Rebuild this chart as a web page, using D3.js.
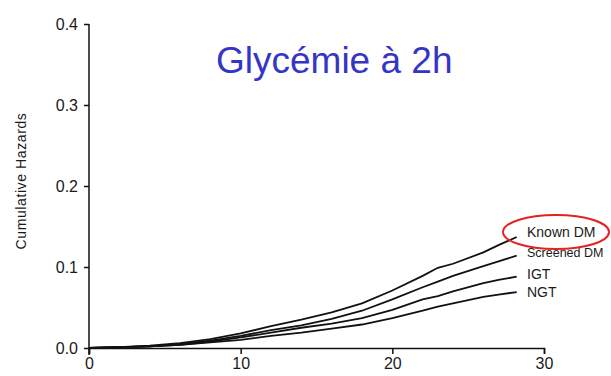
<!DOCTYPE html>
<html><head><meta charset="utf-8">
<script src="https://cdn.jsdelivr.net/npm/d3@7"></script>
<style>html,body{margin:0;padding:0;background:#fff;}svg{display:block;}</style>
</head><body>
<script>
const times = [0,2,4,6,8,10,12,14,16,18,20,22,23,24,26,27,28.2];
const knownDM    = [0,0.001,0.003,0.006,0.011,0.018,0.027,0.035,0.044,0.055,0.071,0.089,0.099,0.104,0.118,0.127,0.137];
const screenedDM = [0,0.001,0.002,0.005,0.009,0.015,0.022,0.028,0.036,0.046,0.060,0.075,0.082,0.089,0.101,0.107,0.114];
const igt        = [0,0.001,0.002,0.004,0.008,0.013,0.019,0.025,0.030,0.037,0.047,0.060,0.064,0.070,0.080,0.084,0.088];
const ngt        = [0,0.001,0.002,0.004,0.007,0.010,0.015,0.019,0.024,0.029,0.037,0.046,0.051,0.055,0.063,0.066,0.069];
const seriesNames = ["Known DM","Screened DM","IGT","NGT"];
const xTicks = [0,10,20,30];
const yTicks = [0.0,0.1,0.2,0.3,0.4];
const title = "Glycémie à 2h";
const yLabel = "Cumulative Hazards";

const W = 611, H = 376;
const svg = d3.select("body").append("svg").attr("width", W).attr("height", H);
const x = d3.scaleLinear().domain([0,30]).range([89,544]);
const y = d3.scaleLinear().domain([0,0.4]).range([348,24]);

const font = "'Liberation Sans', Arial, sans-serif";

// axes
const yAxis = svg.append("g").attr("transform","translate(89,0)")
  .call(d3.axisLeft(y).tickValues(yTicks).tickFormat(d3.format(".1f")).tickSize(5).tickPadding(6));
const xAxis = svg.append("g").attr("transform","translate(0,348)")
  .call(d3.axisBottom(x).tickValues(xTicks).tickFormat(d3.format("d")).tickSize(6).tickPadding(4));
[yAxis,xAxis].forEach(a=>{
  a.select(".domain").attr("stroke","#111").attr("stroke-width",1.5);
  a.selectAll(".tick line").attr("stroke","#111").attr("stroke-width",1.5);
  a.selectAll(".tick text").attr("fill","#1a1a1a").style("font-family",font).style("font-size","16px");
});
yAxis.select(".domain").attr("d","M0,24H0V355");

// y label
svg.append("text").attr("transform","translate(26,181) rotate(-90)")
  .attr("text-anchor","middle").style("font-family",font).style("font-size","14px")
  .attr("fill","#1a1a1a").attr("letter-spacing","0.6").text(yLabel);

// lines
const allSeries = [knownDM, screenedDM, igt, ngt];
const line = d3.line().x((d,i)=>x(times[i])).y(d=>y(d));
allSeries.forEach(s=>{
  svg.append("path").datum(s).attr("d",line).attr("fill","none")
    .attr("stroke","#111").attr("stroke-width",1.8);
});

// labels
const labelY = [237, 257, 279, 297];
seriesNames.forEach((n,i)=>{
  svg.append("text").attr("x",527).attr("y",labelY[i])
    .style("font-family",font).style("font-size", n === "Screened DM" ? "12.5px" : "14px")
    .attr("fill","#1a1a1a").text(n);
});

// red ellipse
svg.append("ellipse").attr("cx",556).attr("cy",232).attr("rx",53).attr("ry",17)
  .attr("fill","none").attr("stroke","#e32222").attr("stroke-width",2);

// title
svg.append("text").attr("x",216).attr("y",73)
  .style("font-family",font).style("font-size","37px").attr("fill","#3535c5").text(title);
</script>
</body></html>
